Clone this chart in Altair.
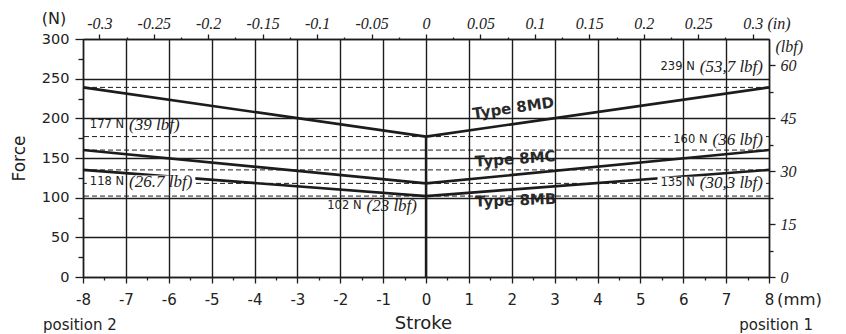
import altair as alt
import pandas as pd

# ---------------- data ----------------
stroke_mm = [-8, 0, 8]
force_8MD = [239, 177, 239]
force_8MC = [160, 118, 160]
force_8MB = [135, 102, 135]
ref_forces = [239, 177, 160, 135, 118, 102]
center_top = [177]

type_names = ["Type 8MD", "Type 8MC", "Type 8MB"]
type_x = [1.1, 1.15, 1.15]
type_y = [199.5, 139, 88.6]
type_angle = [352, 356, 358]

lbl_num = ["177 N", "118 N", "239 N", "160 N", "135 N", "102 N"]
lbl_lbf = ["(39 lbf)", "(26.7 lbf)", "(53,7 lbf)", "(36 lbf)", "(30,3 lbf)", "(23 lbf)"]
lbl_x = [-7.84, -7.84, 7.86, 7.86, 7.86, -0.21]
lbl_y = [192, 120, 265, 173, 118.5, 89]
lbl_side = ["left", "left", "right", "right", "right", "right"]

MM_PER_IN = 25.4
N_PER_LBF = 4.4482216
mm_ticks = [i / 2 for i in range(-16, 17)]
n_ticks = list(range(0, 301, 25))
in_ticks = [round(-0.3 + 0.025 * i, 3) for i in range(25)]
lbf_ticks = [7.5 * i for i in range(9)]

# ---------------- layout ----------------
W, H = 686, 238
XPX = W / 16.0
YPX = H / 300.0
INK = "#1c1c1c"
TXT = "#222222"
SANS = "DejaVu Sans"
SERIF = "Liberation Serif"

XS = alt.Scale(domain=[-8, 8], nice=False, zero=False)
YS = alt.Scale(domain=[0, 300], nice=False, zero=False)

# text width estimates (em units) for placing the mixed-font labels
SANS_W = {c: 0.636 for c in "0123456789"}
SANS_W.update({" ": 0.318, "N": 0.748})
SERIF_I_W = {c: 0.5 for c in "0123456789"}
SERIF_I_W.update({"(": 0.333, ")": 0.333, " ": 0.25, "l": 0.278, "b": 0.5,
                  "f": 0.278, ",": 0.25, ".": 0.25})
NUM_FS, ITAL_FS, GAP, BOXPAD = 11.5, 17, 5, 3


def tw(s, table, fs):
    return sum(table.get(c, 0.55) for c in s) * fs


rows = []
for num, lbf, x, y, side in zip(lbl_num, lbl_lbf, lbl_x, lbl_y, lbl_side):
    nw = tw(num, SANS_W, NUM_FS)
    iw = tw(lbf, SERIF_I_W, ITAL_FS)
    if side == "left":
        nx = x
        ix = x + (nw + GAP) / XPX
    else:
        ix = x - iw / XPX
        nx = ix - (nw + GAP) / XPX
    rows.append(dict(num=num, lbf=lbf, nx=nx, ix=ix, y=y,
                     bx=nx - BOXPAD / XPX, bx2=ix + (iw + BOXPAD) / XPX,
                     by=y - 6.3 / YPX, by2=y + 6.3 / YPX))
lbl_df = pd.DataFrame(rows)

line_df = pd.DataFrame({
    "type": ["8MD"] * 3 + ["8MC"] * 3 + ["8MB"] * 3,
    "x": stroke_mm * 3,
    "f": force_8MD + force_8MC + force_8MB,
})
ref_df = pd.DataFrame({"f": ref_forces})
vrule_df = pd.DataFrame({"x": [0], "f0": [0], "f1": center_top})
type_df = pd.DataFrame({"t": type_names, "x": type_x, "f": type_y, "a": type_angle})


def cond(test, v_true, v_false):
    return {"condition": {"test": test, "value": v_true}, "value": v_false}


bottom_axis = alt.Axis(
    orient="bottom", values=mm_ticks, title="Stroke",
    labelExpr="datum.value % 1 === 0 ? '' + datum.value : ''",
    labelFont=SANS, labelFontSize=15, labelColor=TXT, labelPadding=9,
    labelFlush=False, labelOverlap=False,
    tickSize=cond("datum.value % 1 !== 0", 3, 6), tickColor=INK, tickWidth=1.3,
    grid=True, gridColor=INK, gridWidth=1.4,
    gridOpacity=cond("datum.value % 1 !== 0", 0, 1),
    domainColor=INK, domainWidth=1.5,
    titleFont=SANS, titleFontSize=18, titleFontWeight="normal", titleColor=TXT,
    titleX=340, titleY=46, titleAlign="center", titleBaseline="middle", titleAngle=0,
    zindex=1,
)
left_axis = alt.Axis(
    orient="left", values=n_ticks, title="Force",
    labelExpr="datum.value % 50 === 0 ? '' + datum.value : ''",
    labelFont=SANS, labelFontSize=14.5, labelColor=TXT, labelPadding=6,
    labelFlush=False, labelOverlap=False,
    tickSize=cond("datum.value % 50 !== 0", 5, 8), tickColor=INK, tickWidth=1.3,
    grid=True, gridColor=INK, gridWidth=1.4,
    gridOpacity=cond("datum.value % 50 !== 0", 0, 1),
    domainColor=INK, domainWidth=1.5,
    titleFont=SANS, titleFontSize=17, titleFontWeight="normal", titleColor=TXT,
    titleX=-64, titleY=119, titleAlign="center", titleBaseline="middle", titleAngle=270,
    zindex=1,
)
IN_K = "round(datum.value / %r * 1000)" % MM_PER_IN
top_axis = alt.Axis(
    orient="top", values=[v * MM_PER_IN for v in in_ticks], title="(in)",
    labelExpr="abs(%s) %% 50 === 0 ? '' + (%s / 1000) : ''" % (IN_K, IN_K),
    labelFont=SERIF, labelFontStyle="italic", labelFontSize=16, labelColor=TXT,
    labelPadding=3, labelFlush=False, labelOverlap=False,
    tickSize=cond("abs(%s) %% 50 !== 0" % IN_K, 2, 5),
    tickColor=INK, tickWidth=1.3, grid=False,
    domainColor=INK, domainWidth=1.5,
    titleFont=SERIF, titleFontStyle="italic", titleFontSize=16, titleFontWeight="normal",
    titleColor=TXT, titleX=684, titleY=-16, titleAlign="left", titleBaseline="middle",
    titleAngle=0, zindex=1,
)
LB_K = "round(datum.value / %r * 10)" % N_PER_LBF
right_axis = alt.Axis(
    orient="right", values=[v * N_PER_LBF for v in lbf_ticks], title="(lbf)",
    labelExpr="%s %% 150 === 0 ? '' + (%s / 10) : ''" % (LB_K, LB_K),
    labelFont=SERIF, labelFontStyle="italic", labelFontSize=16, labelColor=TXT,
    labelPadding=5, labelFlush=False, labelOverlap=False,
    tickSize=cond("%s %% 150 !== 0" % LB_K, 4, 6),
    tickColor=INK, tickWidth=1.3, grid=False,
    domainColor=INK, domainWidth=1.5,
    titleFont=SERIF, titleFontStyle="italic", titleFontSize=16, titleFontWeight="normal",
    titleColor=TXT, titleX=6, titleY=7, titleAlign="left", titleBaseline="middle",
    titleAngle=0, zindex=1,
)

# ---------------- layers (all on the mm / N scales) ----------------
base_lines = alt.Chart(line_df).mark_line(color=INK, strokeWidth=2.6).encode(
    x=alt.X("x:Q", scale=XS, axis=bottom_axis),
    y=alt.Y("f:Q", scale=YS, axis=left_axis),
    detail="type:N",
)
sec_axes = alt.Chart(line_df).mark_point(opacity=0).encode(
    x=alt.X("x:Q", scale=XS, axis=top_axis),
    y=alt.Y("f:Q", scale=YS, axis=right_axis),
)
dashed = alt.Chart(ref_df).mark_rule(color=INK, strokeWidth=1, strokeDash=[5, 3]).encode(
    y=alt.Y("f:Q", scale=YS, axis=None),
)
vrule = alt.Chart(vrule_df).mark_rule(color=INK, strokeWidth=2.4).encode(
    x=alt.X("x:Q", scale=XS, axis=None),
    y=alt.Y("f0:Q", scale=YS, axis=None),
    y2="f1:Q",
)
boxes = alt.Chart(lbl_df).mark_rect(fill="white", stroke=None).encode(
    x=alt.X("bx:Q", scale=XS, axis=None), x2="bx2:Q",
    y=alt.Y("by:Q", scale=YS, axis=None), y2="by2:Q",
)
num_txt = alt.Chart(lbl_df).mark_text(
    font=SANS, fontSize=NUM_FS, color=TXT, align="left", baseline="middle"
).encode(
    x=alt.X("nx:Q", scale=XS, axis=None),
    y=alt.Y("y:Q", scale=YS, axis=None),
    text="num:N",
)
lbf_txt = alt.Chart(lbl_df).mark_text(
    font=SERIF, fontStyle="italic", fontSize=ITAL_FS, color=TXT, align="left", baseline="middle"
).encode(
    x=alt.X("ix:Q", scale=XS, axis=None),
    y=alt.Y("y:Q", scale=YS, axis=None),
    text="lbf:N",
)
type_txt = alt.Chart(type_df).mark_text(
    font=SANS, fontWeight="bold", fontSize=15, color="#2a2a2a", align="left", baseline="alphabetic"
).encode(
    x=alt.X("x:Q", scale=XS, axis=None),
    y=alt.Y("f:Q", scale=YS, axis=None),
    angle=alt.Angle("a:Q", scale=None),
    text="t:N",
)


def free_text(s, x, y, align="left", size=15, font=SANS):
    return alt.Chart(pd.DataFrame({"t": [s]})).mark_text(
        font=font, fontSize=size, color=TXT, align=align, baseline="middle"
    ).encode(x=alt.value(x), y=alt.value(y), text="t:N")


t_n = free_text("(N)", -29, -20, align="center", size=16)
t_mm = free_text("(mm)", 694, H + 23, align="left", size=16.5)
t_p2 = free_text("position 2", -40, H + 48, align="left", size=15)
t_p1 = free_text("position 1", 730, H + 48, align="right", size=15)

chart = alt.layer(
    base_lines, sec_axes, dashed, vrule, boxes, num_txt, lbf_txt, type_txt,
    t_n, t_mm, t_p2, t_p1,
).resolve_axis(x="independent", y="independent").properties(
    width=W, height=H,
    padding={"left": 75, "top": 31, "right": 69, "bottom": 57},
    autosize=alt.AutoSizeParams(type="none"),
    background="white",
).configure_view(strokeWidth=0)

chart.save("out.html", embed_options={"renderer": "svg", "actions": False})
